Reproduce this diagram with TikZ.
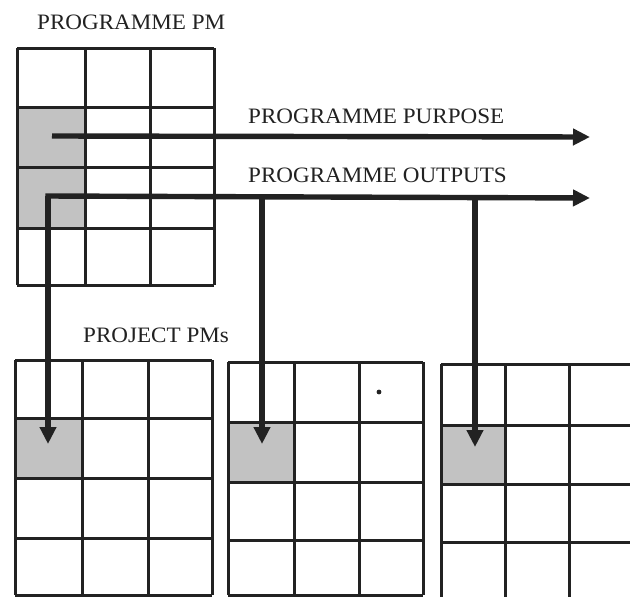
\documentclass[tikz,border=0pt]{standalone}
\usepackage{fontspec}
\setmainfont{Liberation Serif}
\usetikzlibrary{arrows.meta}
\definecolor{ink}{HTML}{222222}
\definecolor{shade}{HTML}{C2C2C2}
\tikzset{
  gridline/.style={draw=ink, line width=3pt},
  shadecell/.style={fill=shade, draw=none, inner sep=0pt, outer sep=0pt},
  flow/.style={draw=ink, line width=5.4pt, -{Triangle[length=17pt,width=16pt]}},
  lbl/.style={anchor=base west, inner sep=0pt, text=ink, font=\fontsize{22}{26}\selectfont},
}
\begin{document}
\begin{tikzpicture}[x=1pt,y=-1pt]
\useasboundingbox (0,0) rectangle (630,597);
\clip (0,0) rectangle (630,597);
\fill[white] (0,0) rectangle (630,597);

% shaded cells
\node[shadecell, minimum width=68pt, minimum height=121pt, anchor=north west] (topshade) at (17,107) {};
\node[shadecell, minimum width=67pt, minimum height=60pt, anchor=north west] (bs1) at (15,418) {};
\node[shadecell, minimum width=66pt, minimum height=60pt, anchor=north west] (bs2) at (228,422) {};
\node[shadecell, minimum width=64pt, minimum height=59pt, anchor=north west] (bs3) at (441,425) {};

% top grid (programme PM)
\foreach \x in {17,85,150,214} \draw[gridline] (\x,48) -- (\x,285);
\foreach \y in {48,107,167,228,285} \draw[gridline] (17,\y) -- (214,\y);

% bottom grid 1
\foreach \x in {15,82,148,212} \draw[gridline] (\x,360) -- (\x,595);
\foreach \y in {360,418,478,538,595} \draw[gridline] (15,\y) -- (212,\y);
% bottom grid 2
\foreach \x in {228,294,359,423} \draw[gridline] (\x,362) -- (\x,595);
\foreach \y in {362,422,482,540,595} \draw[gridline] (228,\y) -- (423,\y);
% bottom grid 3
\foreach \x in {441,505,569,634} \draw[gridline] (\x,364) -- (\x,605);
\foreach \y in {364,425,484,542,602} \draw[gridline] (441,\y) -- (640,\y);

% speck
\fill[ink] (379,392) circle (2.4pt);

% labels
\node[lbl] (lpm) at (37,29) {\scalebox{1.05}[1]{PROGRAMME PM}};
\node[lbl] (lpurp) at (248,123) {\scalebox{1.05}[1]{PROGRAMME PURPOSE}};
\node[lbl] (lout) at (248,182) {\scalebox{1.05}[1]{PROGRAMME OUTPUTS}};
\node[lbl] (lproj) at (83,342) {\scalebox{1.05}[1]{PROJECT PMs}};

% connector coordinates
\coordinate (pstart) at (52,136);
\coordinate (pend) at (590,137);
\coordinate (ocorner) at (48,196);
\coordinate (oend) at (590,198);
\coordinate (o2) at (262,197);
\coordinate (o3) at (475,197);
\coordinate (tip1) at (48,444);
\coordinate (tip2) at (262,444);
\coordinate (tip3) at (475,447);

% arrows
\draw[flow] (pstart) -- (pend);
\draw[flow] ([xshift=-2.7pt]ocorner) -- (oend);
\draw[flow] (ocorner) -- (tip1);
\draw[flow] (o2) -- (tip2);
\draw[flow] (o3) -- (tip3);
\end{tikzpicture}
\end{document}
